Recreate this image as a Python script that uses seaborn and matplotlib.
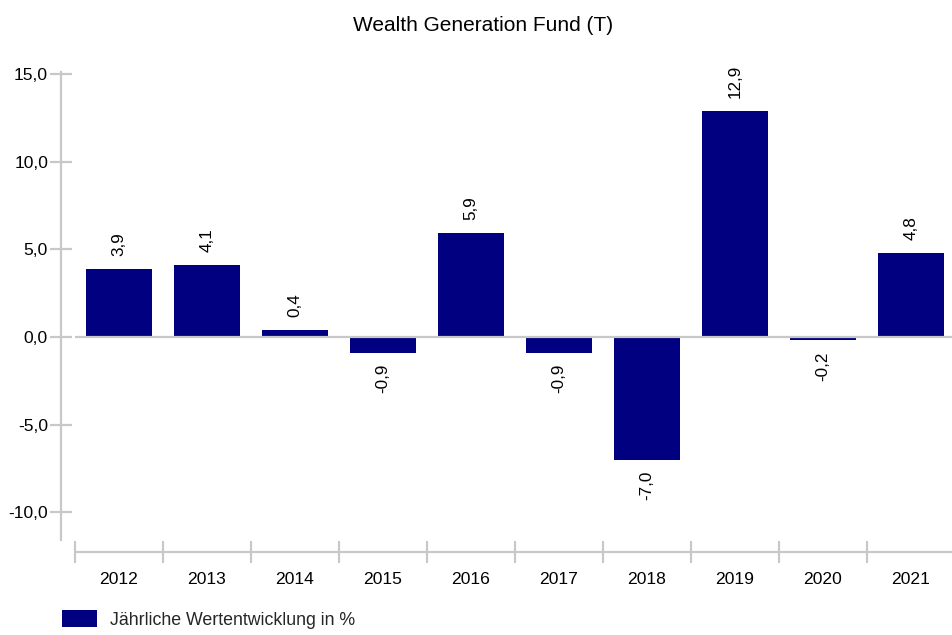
import matplotlib
matplotlib.use("Agg")
import matplotlib.pyplot as plt
import seaborn as sns
import pandas as pd
from matplotlib.patches import Patch
from matplotlib.ticker import FixedLocator, FuncFormatter

# ---- data ----
years = ["2012", "2013", "2014", "2015", "2016", "2017", "2018", "2019", "2020", "2021"]
returns = [3.9, 4.1, 0.4, -0.9, 5.9, -0.9, -7.0, 12.9, -0.2, 4.8]
y_ticks = [-10, -5, 0, 5, 10, 15]
title = "Wealth Generation Fund (T)"
legend_label = "Jährliche Wertentwicklung in %"

BAR = "#000080"
GRID = "#c8c8c8"

sns.set_theme(style="white")
plt.rcParams["font.family"] = ["Liberation Sans", "DejaVu Sans"]

W, H = 952, 635
fig = plt.figure(figsize=(W / 100, H / 100), dpi=100)
px = lambda v: v * 72 / 100  # pixels -> points

ax = fig.add_axes([75 / W, 95 / H, 880 / W, 468 / H])
df = pd.DataFrame({"year": years, "ret": returns})
sns.barplot(data=df, x="year", y="ret", color=BAR, saturation=1, width=0.76, ax=ax,
            linewidth=0, edgecolor="none")

ax.set_xlim(-0.5, 9.5)
ax.set_ylim(-11.58, 15.11)
ax.set_xlabel("")
ax.set_ylabel("")

# zero line
ax.axhline(0, color=GRID, lw=px(2.2), zorder=3)

# spines
for s in ["top", "right"]:
    ax.spines[s].set_visible(False)
for s in ["left", "bottom"]:
    ax.spines[s].set_color(GRID)
    ax.spines[s].set_linewidth(px(2.2))
ax.spines["left"].set_position(("outward", px(14)))
ax.spines["bottom"].set_position(("outward", px(12)))
ax.spines["left"].set_bounds(-11.58, 15.11)

# y ticks
ax.yaxis.set_major_locator(FixedLocator(y_ticks))
ax.yaxis.set_major_formatter(FuncFormatter(lambda v, p: f"{v:.1f}".replace(".", ",")))
ax.tick_params(axis="y", which="major", direction="inout", length=px(22), width=px(2.2),
               color=GRID, pad=px(2), labelsize=12.6, labelcolor="black", left=True)

# x ticks
ax.xaxis.set_minor_locator(FixedLocator([i - 0.5 for i in range(len(years) + 1)]))
ax.tick_params(axis="x", which="minor", direction="inout", length=px(22), width=px(2.2),
               color=GRID, bottom=True)
ax.tick_params(axis="x", which="major", length=0, pad=px(19.5), labelsize=12.6,
               labelcolor="black", bottom=True)

# value labels
for i, v in enumerate(returns):
    txt = f"{v:.1f}".replace(".", ",")
    if v >= 0:
        ax.annotate(txt, (i, v), xytext=(0, px(13)), textcoords="offset points",
                    rotation=90, ha="center", va="bottom", fontsize=12.3, color="black")
    else:
        ax.annotate(txt, (i, v), xytext=(0, -px(11)), textcoords="offset points",
                    rotation=90, ha="center", va="top", fontsize=12.3, color="black")

# title
fig.text(483 / W, 1 - 31 / H, title, ha="center", va="baseline", fontsize=15, color="black")

# legend
fig.legend(handles=[Patch(facecolor=BAR, edgecolor="none")], labels=[legend_label],
           loc="center left", bbox_to_anchor=(62 / W, 1 - 619.5 / H), frameon=False,
           fontsize=12.8, handlelength=35 / 17.8, handleheight=19 / 17.8,
           handletextpad=13 / 17.8, borderpad=0, borderaxespad=0)

fig.savefig("out.png", dpi=100)
